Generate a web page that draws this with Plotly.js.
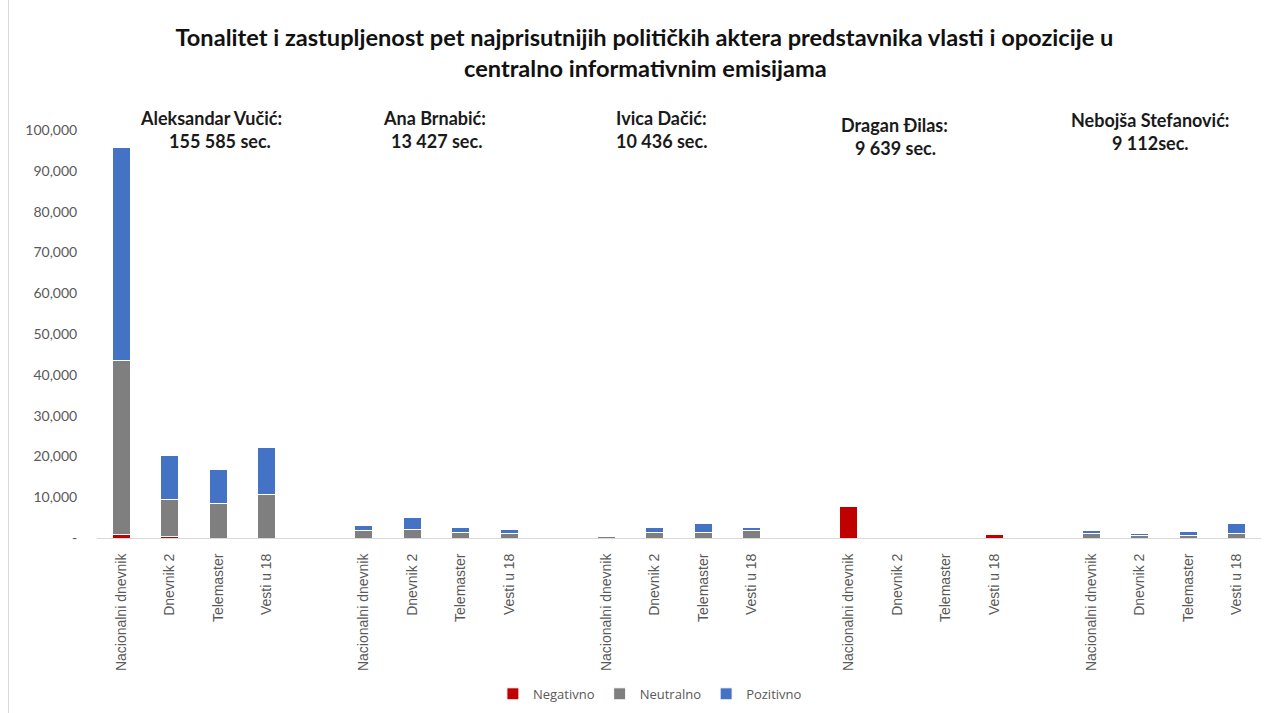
<!DOCTYPE html>
<html>
<head>
<meta charset="utf-8">
<script src="https://cdn.plot.ly/plotly-3.0.1.min.js"></script>
<style>
  html, body { margin: 0; padding: 0; background: #fff; }
  #chart { width: 1271px; height: 713px; }
  #edge { position: absolute; left: 8px; top: 0; width: 1px; height: 713px; background: #d9d9d9; z-index: 5; }
</style>
</head>
<body>
<div id="edge"></div>
<div id="chart"></div>
<script>
// ---- data ----
const actors = ["Aleksandar Vučić", "Ana Brnabić", "Ivica Dačić", "Dragan Đilas", "Nebojša Stefanović"];
const actorTotals = ["155 585 sec.", "13 427 sec.", "10 436 sec.", "9 639 sec.", "9 112sec."];
const shows = ["Nacionalni dnevnik", "Dnevnik 2", "Telemaster", "Vesti u 18"];

const negativno = [
  800, 400, 0, 0,
  0, 0, 0, 0,
  0, 0, 0, 0,
  7800, 0, 0, 800,
  0, 0, 0, 0
];
const neutralno = [
  42600, 9000, 8500, 10700,
  1800, 2100, 1400, 1200,
  400, 1400, 1400, 1800,
  0, 0, 0, 0,
  1100, 700, 600, 1200
];
const pozitivno = [
  52200, 10800, 8200, 11600,
  1300, 2900, 1200, 800,
  0, 1200, 2200, 800,
  0, 0, 0, 0,
  700, 500, 1100, 2400
];

const yTickVals = [0, 10000, 20000, 30000, 40000, 50000, 60000, 70000, 80000, 90000, 100000];
const yTickText = ["-", "10,000", "20,000", "30,000", "40,000", "50,000", "60,000", "70,000", "80,000", "90,000", "100,000"];

// ---- build positions (one empty slot between actor groups) ----
const xPos = [];
const xLabels = [];
actors.forEach((a, g) => {
  shows.forEach((s, i) => {
    xPos.push(g * (shows.length + 1) + i);
    xLabels.push(s);
  });
});

const colors = { neg: "#C00000", neu: "#7F7F7F", poz: "#4472C4" };
function barTrace(name, vals, color) {
  return {
    type: "bar", name: name, x: xPos, y: vals, width: 0.37,
    marker: { color: color, line: { color: "#ffffff", width: 1 } },
    hoverinfo: "skip"
  };
}
const traces = [
  barTrace("Negativno", negativno, colors.neg),
  barTrace("Neutralno", neutralno, colors.neu),
  barTrace("Pozitivno", pozitivno, colors.poz)
];

// ---- annotations for actor headings ----
const headPos = [
  { x1: 0.098, y1: 1.029, x2: 0.106, y2: 0.973 },
  { x1: 0.290, y1: 1.029, x2: 0.292, y2: 0.973 },
  { x1: 0.485, y1: 1.029, x2: 0.485, y2: 0.973 },
  { x1: 0.685, y1: 1.012, x2: 0.686, y2: 0.956 },
  { x1: 0.905, y1: 1.025, x2: 0.905, y2: 0.968 }
];
const fam = "Lato, 'Liberation Sans', sans-serif";
const headFont = { family: fam, size: 18, color: "#1a1a1a" };
const annotations = [];
actors.forEach((a, i) => {
  const p = headPos[i];
  annotations.push({ text: "<b>" + a + ":</b>", xref: "paper", yref: "paper", x: p.x1, y: p.y1,
    xanchor: "center", yanchor: "middle", showarrow: false, font: headFont });
  annotations.push({ text: "<b>" + actorTotals[i] + "</b>", xref: "paper", yref: "paper", x: p.x2, y: p.y2,
    xanchor: "center", yanchor: "middle", showarrow: false, font: headFont });
});
// second title line
annotations.push({
  text: "<b>centralno informativnim emisijama</b>", xref: "paper", yref: "paper",
  x: 0.471, y: (538 - 68) / 408, xanchor: "center", yanchor: "middle", showarrow: false,
  font: { family: fam, size: 23.6, color: "#111" }
});

const layout = {
  width: 1271, height: 713,
  margin: { l: 97, r: 10, t: 130, b: 175, pad: 0, autoexpand: false },
  paper_bgcolor: "#ffffff", plot_bgcolor: "#ffffff",
  barmode: "stack",
  showlegend: true,
  title: {
    text: "<b>Tonalitet i zastupljenost pet najprisutnijih političkih aktera predstavnika vlasti i opozicije u</b>",
    x: 0.507, xanchor: "center", y: 1 - 38 / 713, yanchor: "middle", yref: "container",
    font: { family: fam, size: 23.6, color: "#111" }
  },
  xaxis: {
    range: [-0.5, 23.5], automargin: false,
    tickmode: "array", tickvals: xPos, ticktext: xLabels,
    tickangle: -90,
    tickfont: { family: "'Liberation Sans', Arial, sans-serif", size: 14, color: "#595959" },
    ticks: "outside", ticklen: 9, tickcolor: "rgba(0,0,0,0)",
    showline: true, linecolor: "#d9d9d9", linewidth: 1,
    showgrid: false, zeroline: false, fixedrange: true
  },
  yaxis: {
    range: [0, 100000], automargin: false,
    tickmode: "array", tickvals: yTickVals, ticktext: yTickText,
    tickfont: { family: "Lato, 'Open Sans', sans-serif", size: 14, color: "#595959" },
    ticks: "outside", ticklen: 16, tickcolor: "rgba(0,0,0,0)",
    showline: false, showgrid: false, zeroline: false, fixedrange: true
  },
  legend: {
    orientation: "h", x: 0.475, xanchor: "center", y: -0.382, yanchor: "middle",
    font: { family: "'Open Sans', sans-serif", size: 13, color: "#595959" },
    itemwidth: 30, traceorder: "normal"
  },
  annotations: annotations
};

Plotly.newPlot("chart", traces, layout, { staticPlot: true, displayModeBar: false });
</script>
</body>
</html>
